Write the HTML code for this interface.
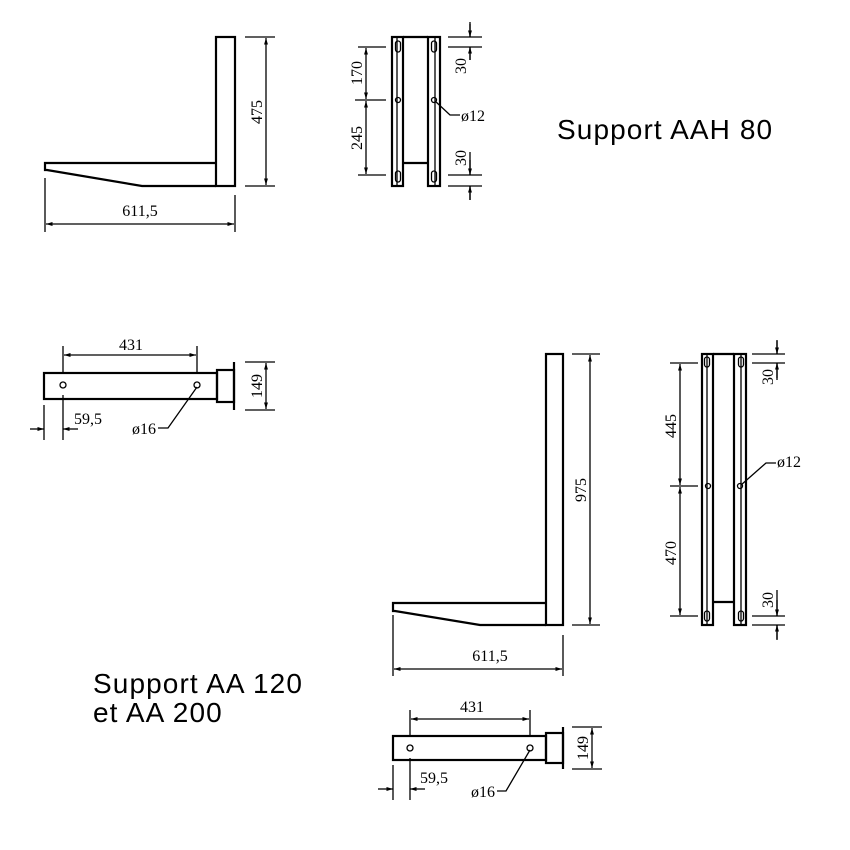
<!DOCTYPE html>
<html><head><meta charset="utf-8"><style>
body{margin:0;background:#fff}
svg{display:block}
.l{stroke:#000;stroke-width:2.2;fill:none}
.t{stroke:#000;stroke-width:1.3;fill:none}
.d{font-family:"Liberation Serif",serif;font-size:16px;fill:#000}
.s{font-family:"Liberation Sans",sans-serif;font-size:28px;letter-spacing:1.1px;fill:#000}
</style></head><body>
<svg width="850" height="850" viewBox="0 0 850 850" xmlns="http://www.w3.org/2000/svg">
<defs>
<marker id="a" viewBox="0 0 10 10" refX="10" refY="5" markerWidth="5" markerHeight="5" orient="auto-start-reverse"><path d="M0,2 L10,5 L0,8z" fill="#000"/></marker>
</defs>

<!-- Top-left side view -->
<rect class="l" x="216" y="37" width="19" height="149"/>
<path class="l" d="M216,163 H45 V170 L47,170 L142,186 H216"/>
<path class="t" d="M245,37 H275 M245,186 H275 M45,178 V232 M235,195 V232"/>
<path class="t" d="M266,38 V185" marker-start="url(#a)" marker-end="url(#a)"/>
<path class="t" d="M46,224 H234" marker-start="url(#a)" marker-end="url(#a)"/>
<text class="d" transform="translate(262,112) rotate(-90)" text-anchor="middle">475</text>
<text class="d" x="140" y="216" text-anchor="middle">611,5</text>

<!-- Top-middle front view -->
<rect class="l" x="392" y="37" width="11" height="149"/>
<rect class="l" x="428" y="37" width="12" height="149"/>
<path class="t" d="M397,38 V185 M435,38 V185"/>
<path class="l" d="M403,37 H428 M403,163 H428"/>
<rect class="t" x="395.5" y="41" width="5" height="11" rx="2.5"/>
<rect class="t" x="431.5" y="41" width="5" height="11" rx="2.5"/>
<rect class="t" x="395.5" y="171" width="5" height="11" rx="2.5"/>
<rect class="t" x="431.5" y="171" width="5" height="11" rx="2.5"/>
<circle class="t" cx="398" cy="100" r="2.5"/><circle class="t" cx="434" cy="100" r="2.5"/>
<path class="t" d="M358,47 H386 M355,100 H386 M358,175 H386"/>
<path class="t" d="M366,48 V99" marker-start="url(#a)" marker-end="url(#a)"/>
<path class="t" d="M366,101 V174" marker-start="url(#a)" marker-end="url(#a)"/>
<path class="t" d="M448,37 H482 M448,47 H482 M470,22 V37 M470,47 V60 M448,175 H482 M448,186 H482 M470,152 V175 M470,186 V200"/>
<path class="t" d="M470,24 V37" marker-end="url(#a)"/><path class="t" d="M470,60 V47" marker-end="url(#a)"/>
<path class="t" d="M470,160 V175" marker-end="url(#a)"/><path class="t" d="M470,200 V186" marker-end="url(#a)"/>
<path class="t" d="M435,101 L450,115 H460"/>
<text class="d" transform="translate(362,73) rotate(-90)" text-anchor="middle">170</text>
<text class="d" transform="translate(362,138) rotate(-90)" text-anchor="middle">245</text>
<text class="d" transform="translate(466,66) rotate(-90)" text-anchor="middle">30</text>
<text class="d" transform="translate(466,158) rotate(-90)" text-anchor="middle">30</text>
<text class="d" x="461" y="121">ø12</text>
<text class="s" x="557" y="139">Support AAH 80</text>

<!-- Middle-left top view -->
<rect class="l" x="44" y="373" width="173" height="26"/>
<rect class="l" x="217" y="370" width="17" height="32"/>
<path class="l" d="M234,362 V410"/>
<circle class="t" cx="63" cy="385" r="3"/><circle class="t" cx="197" cy="385" r="3"/>
<path class="t" d="M63,346 V374 M197,346 V374 M245,362 H275 M245,410 H275 M44,405 V440 M63,395 V440"/>
<path class="t" d="M64,355 H196" marker-start="url(#a)" marker-end="url(#a)"/>
<path class="t" d="M266,363 V409" marker-start="url(#a)" marker-end="url(#a)"/>
<path class="t" d="M30,429 H44" marker-end="url(#a)"/><path class="t" d="M78,429 H63" marker-end="url(#a)"/>
<path class="t" d="M197,387 L168,428 H158"/>
<text class="d" x="131" y="350" text-anchor="middle">431</text>
<text class="d" transform="translate(262,386) rotate(-90)" text-anchor="middle">149</text>
<text class="d" x="74" y="424">59,5</text>
<text class="d" x="132" y="434">ø16</text>

<!-- Bottom-right side view -->
<rect class="l" x="546" y="354" width="17" height="271"/>
<path class="l" d="M546,603 H393 V611 L395,611 L480,625 H546"/>
<path class="t" d="M572,354 H600 M572,625 H600 M393,615 V676 M563,635 V676"/>
<path class="t" d="M590,355 V624" marker-start="url(#a)" marker-end="url(#a)"/>
<path class="t" d="M394,669 H562" marker-start="url(#a)" marker-end="url(#a)"/>
<text class="d" transform="translate(586,490) rotate(-90)" text-anchor="middle">975</text>
<text class="d" x="490" y="661" text-anchor="middle">611,5</text>

<!-- Right front view -->
<rect class="l" x="702" y="354" width="11" height="271"/>
<rect class="l" x="734" y="354" width="12" height="271"/>
<path class="t" d="M707,355 V624 M741,355 V624"/>
<path class="l" d="M713,354 H734 M713,602 H734"/>
<rect class="t" x="704.5" y="357" width="5" height="10" rx="2.5"/>
<rect class="t" x="738.5" y="357" width="5" height="10" rx="2.5"/>
<rect class="t" x="704.5" y="611" width="5" height="10" rx="2.5"/>
<rect class="t" x="738.5" y="611" width="5" height="10" rx="2.5"/>
<circle class="t" cx="708" cy="486" r="2.5"/><circle class="t" cx="740" cy="486" r="2.5"/>
<path class="t" d="M670,363 H698 M670,486 H698 M670,616 H698"/>
<path class="t" d="M680,364 V485" marker-start="url(#a)" marker-end="url(#a)"/>
<path class="t" d="M680,487 V615" marker-start="url(#a)" marker-end="url(#a)"/>
<path class="t" d="M752,354 H785 M752,363 H785 M777,340 V354 M777,363 V380 M752,616 H785 M752,625 H785 M777,590 V616 M777,625 V640"/>
<path class="t" d="M777,341 V354" marker-end="url(#a)"/><path class="t" d="M777,378 V363" marker-end="url(#a)"/>
<path class="t" d="M777,600 V616" marker-end="url(#a)"/><path class="t" d="M777,639 V625" marker-end="url(#a)"/>
<path class="t" d="M741,485 L766,463 H776"/>
<text class="d" transform="translate(676,426) rotate(-90)" text-anchor="middle">445</text>
<text class="d" transform="translate(676,553) rotate(-90)" text-anchor="middle">470</text>
<text class="d" transform="translate(773,377) rotate(-90)" text-anchor="middle">30</text>
<text class="d" transform="translate(773,600) rotate(-90)" text-anchor="middle">30</text>
<text class="d" x="777" y="467">ø12</text>

<text class="s" x="93" y="693">Support AA 120</text>
<text class="s" x="93" y="722">et AA 200</text>

<!-- Bottom top view -->
<rect class="l" x="393" y="736" width="153" height="24"/>
<rect class="l" x="546" y="733" width="17" height="30"/>
<path class="l" d="M563,727 V769"/>
<circle class="t" cx="410" cy="748" r="3"/><circle class="t" cx="530" cy="748" r="3"/>
<path class="t" d="M410,710 V737 M530,710 V737 M572,727 H602 M572,769 H602 M393,765 V800 M410,758 V800"/>
<path class="t" d="M411,719 H529" marker-start="url(#a)" marker-end="url(#a)"/>
<path class="t" d="M592,728 V768" marker-start="url(#a)" marker-end="url(#a)"/>
<path class="t" d="M378,789 H393" marker-end="url(#a)"/><path class="t" d="M425,789 H410" marker-end="url(#a)"/>
<path class="t" d="M530,750 L506,791 H497"/>
<text class="d" x="472" y="712" text-anchor="middle">431</text>
<text class="d" transform="translate(588,748) rotate(-90)" text-anchor="middle">149</text>
<text class="d" x="420" y="783">59,5</text>
<text class="d" x="471" y="797">ø16</text>
</svg>
</body></html>
